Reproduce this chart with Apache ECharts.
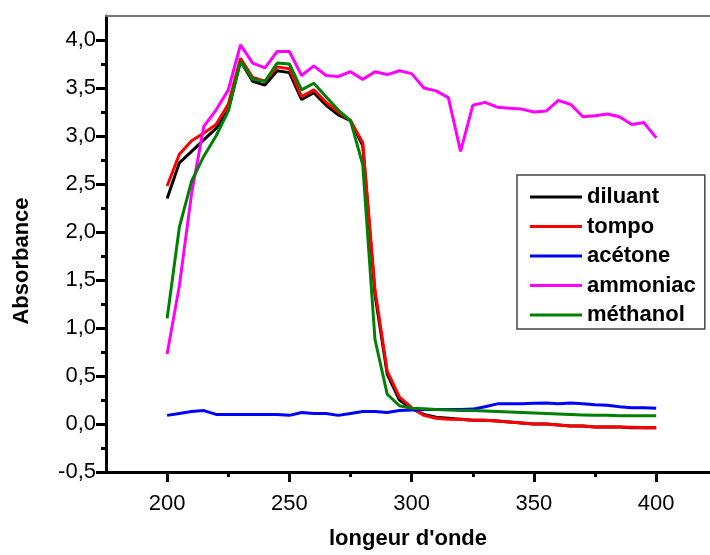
<!DOCTYPE html>
<html>
<head>
<meta charset="utf-8">
<script src="https://cdn.jsdelivr.net/npm/echarts@6/dist/echarts.min.js"></script>
<style>
  html, body { margin: 0; padding: 0; background: #fff; }
  #chart { width: 710px; height: 555px; }
</style>
</head>
<body>
<div id="chart"></div>
<script>
// longueurs d'onde (nm)
const wavelengths = [200, 205, 210, 215, 220, 225, 230, 235, 240, 245, 250, 255, 260, 265, 270, 275, 280, 285, 290, 295,
  300, 305, 310, 315, 320, 325, 330, 335, 340, 345, 350, 355, 360, 365, 370, 375, 380, 385, 390, 395, 400];

const diluant = [2.35, 2.72, 2.84, 2.96, 3.08, 3.27, 3.78, 3.57, 3.53, 3.68, 3.66, 3.38, 3.45, 3.32, 3.22, 3.16, 2.90, 1.35, 0.52, 0.25,
  0.16, 0.10, 0.07, 0.06, 0.05, 0.04, 0.04, 0.03, 0.02, 0.01, 0.00, 0.00, -0.01, -0.02, -0.02, -0.03, -0.03, -0.03, -0.04, -0.04, -0.04];
const tompo = [2.48, 2.81, 2.95, 3.03, 3.12, 3.33, 3.81, 3.61, 3.57, 3.72, 3.70, 3.41, 3.48, 3.35, 3.25, 3.16, 2.93, 1.40, 0.55, 0.28,
  0.17, 0.09, 0.06, 0.05, 0.05, 0.04, 0.04, 0.03, 0.02, 0.01, 0.00, 0.00, -0.01, -0.02, -0.02, -0.03, -0.03, -0.03, -0.035, -0.04, -0.04];
const acetone = [0.09, 0.11, 0.13, 0.14, 0.10, 0.10, 0.10, 0.10, 0.10, 0.10, 0.09, 0.12, 0.11, 0.11, 0.09, 0.11, 0.13, 0.13, 0.12, 0.14,
  0.145, 0.15, 0.15, 0.15, 0.15, 0.155, 0.18, 0.21, 0.21, 0.21, 0.215, 0.22, 0.21, 0.22, 0.21, 0.20, 0.195, 0.18, 0.17, 0.17, 0.165];
const ammoniac = [0.73, 1.44, 2.40, 3.10, 3.27, 3.48, 3.95, 3.76, 3.71, 3.88, 3.88, 3.63, 3.73, 3.63, 3.62, 3.67, 3.59, 3.67, 3.64, 3.68,
  3.65, 3.50, 3.47, 3.40, 2.84, 3.32, 3.35, 3.30, 3.29, 3.28, 3.25, 3.26, 3.37, 3.33, 3.20, 3.21, 3.23, 3.20, 3.12, 3.14, 2.98];
const methanol = [1.10, 2.05, 2.53, 2.79, 3.00, 3.26, 3.78, 3.59, 3.57, 3.76, 3.75, 3.48, 3.55, 3.41, 3.27, 3.16, 2.70, 0.88, 0.31, 0.19,
  0.165, 0.16, 0.15, 0.145, 0.14, 0.14, 0.135, 0.13, 0.125, 0.12, 0.115, 0.11, 0.105, 0.10, 0.095, 0.09, 0.09, 0.085, 0.085, 0.085, 0.085];

// graduations
const xMajor = [200, 250, 300, 350, 400];
const xMinor = [225, 275, 325, 375];
const yMajor = [-0.5, 0, 0.5, 1, 1.5, 2, 2.5, 3, 3.5, 4];
const yMinor = [-0.25, 0.25, 0.75, 1.25, 1.75, 2.25, 2.75, 3.25, 3.75];

const FONT = '"Liberation Sans", Arial, sans-serif';

const chart = echarts.init(document.getElementById('chart'), null, { renderer: 'canvas' });

function pairs(ys) {
  return wavelengths.map((w, i) => [w, ys[i]]);
}

function line(name, ys, color) {
  return {
    name: name,
    type: 'line',
    data: pairs(ys),
    symbol: 'none',
    lineStyle: { color: color, width: 3 },
    itemStyle: { color: color },
    z: 3
  };
}

const X_MIN = 175, X_MAX = 422;
const Y_MIN = -0.5, Y_MAX = 4.25;

const option = {
  animation: false,
  backgroundColor: '#fff',
  grid: { left: 106, right: 0, top: 16, bottom: 81 },
  legend: {
    orient: 'vertical',
    left: 517,
    top: 175,
    padding: [11, 9, 3, 13],
    itemGap: 7.5,
    itemWidth: 52,
    itemHeight: 3,
    icon: 'rect',
    borderColor: '#444',
    borderWidth: 1.5,
    textStyle: { fontFamily: FONT, fontSize: 22, fontWeight: 'bold', color: '#000' },
    data: ['diluant', 'tompo', 'acétone', 'ammoniac', 'méthanol']
  },
  xAxis: [
    {
      type: 'value', min: X_MIN, max: X_MAX, position: 'bottom',
      name: "longeur d'onde", nameLocation: 'middle', nameGap: 56,
      nameTextStyle: { fontFamily: FONT, fontSize: 22, fontWeight: 'bold', color: '#000' },
      axisLine: { show: true, onZero: false, lineStyle: { color: '#000', width: 3 } },
      axisTick: { show: true, customValues: xMajor, length: 10, lineStyle: { color: '#000', width: 3 } },
      axisLabel: { customValues: xMajor, margin: 21, fontFamily: FONT, fontSize: 22, color: '#000' },
      splitLine: { show: false }
    },
    {
      // petites graduations
      type: 'value', min: X_MIN, max: X_MAX, position: 'bottom',
      axisLine: { show: false, onZero: false },
      axisTick: { show: true, customValues: xMinor, length: 5, lineStyle: { color: '#000', width: 3 } },
      axisLabel: { show: false },
      splitLine: { show: false }
    },
    {
      // cadre du haut
      type: 'value', min: X_MIN, max: X_MAX, position: 'top',
      axisLine: { show: true, onZero: false, lineStyle: { color: '#777', width: 2 } },
      axisTick: { show: false },
      axisLabel: { show: false },
      splitLine: { show: false }
    }
  ],
  yAxis: [
    {
      type: 'value', min: Y_MIN, max: Y_MAX, position: 'left',
      name: 'Absorbance', nameLocation: 'middle', nameGap: 73, nameRotate: 90,
      nameTextStyle: { fontFamily: FONT, fontSize: 22, fontWeight: 'bold', color: '#000', padding: [0, 34, 0, 0] },
      axisLine: { show: true, onZero: false, lineStyle: { color: '#000', width: 3 } },
      axisTick: { show: true, customValues: yMajor, length: 10, lineStyle: { color: '#000', width: 3 } },
      axisLabel: {
        customValues: yMajor, margin: 10, fontFamily: FONT, fontSize: 22, color: '#000',
        formatter: v => v.toFixed(1).replace('.', ',')
      },
      splitLine: { show: false }
    },
    {
      type: 'value', min: Y_MIN, max: Y_MAX, position: 'left',
      axisLine: { show: false, onZero: false },
      axisTick: { show: true, customValues: yMinor, length: 5, lineStyle: { color: '#000', width: 3 } },
      axisLabel: { show: false },
      splitLine: { show: false }
    }
  ],
  series: [
    line('diluant', diluant, '#000000'),
    line('tompo', tompo, '#ff0000'),
    line('acétone', acetone, '#0000ff'),
    line('ammoniac', ammoniac, '#ff00ff'),
    line('méthanol', methanol, '#008000')
  ]
};

chart.setOption(option);
</script>
</body>
</html>
